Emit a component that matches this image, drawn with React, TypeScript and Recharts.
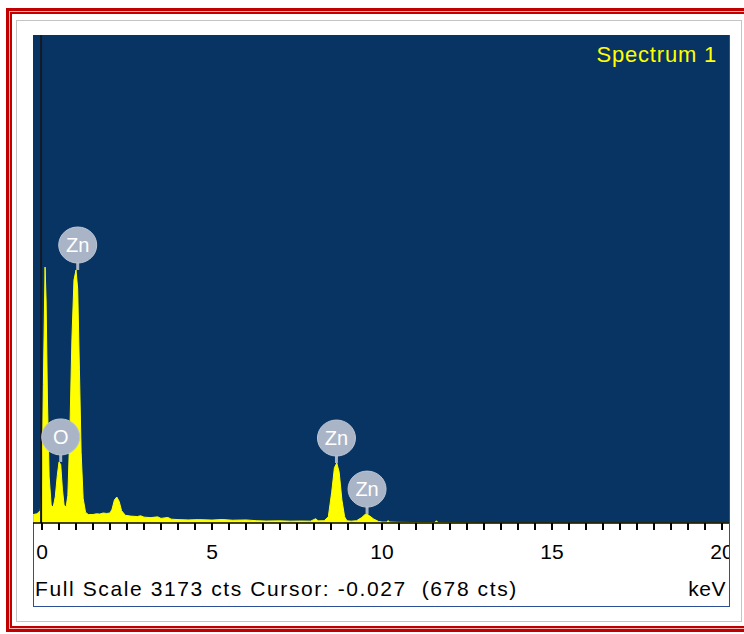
import { Area, AreaChart, ReferenceDot, ReferenceLine, XAxis, YAxis } from "recharts"

// EDS spectrum, keV vs counts
const energyKeV = [
  -0.26, -0.15, -0.05, 0.0, 0.04, 0.09, 0.12, 0.16, 0.21, 0.27, 0.33, 0.39, 0.45, 0.5, 0.55, 0.6, 0.65,
  0.71, 0.76, 0.82, 0.88, 0.94, 1.0, 1.05, 1.1, 1.15, 1.21, 1.28, 1.36, 1.5, 1.6, 1.7, 1.8, 1.9, 2.0,
  2.06, 2.13, 2.2, 2.27, 2.34, 2.45, 2.6, 2.8, 2.9, 3.0, 3.2, 3.4, 3.5, 3.7, 3.8, 4.0, 4.3, 4.6, 5.0,
  5.3, 5.6, 6.0, 6.3, 6.6, 7.0, 7.3, 7.6, 7.9, 8.05, 8.12, 8.3, 8.42, 8.52, 8.6, 8.67, 8.74, 8.82,
  8.9, 8.97, 9.1, 9.25, 9.4, 9.5, 9.56, 9.64, 9.76, 9.9, 10.0, 10.15, 10.18, 10.22, 10.5, 11.0, 11.55,
  11.6, 11.65, 12.0, 13.0, 20.2,
]
const counts = [
  55, 60, 80, 250, 900, 1664, 1450, 800, 300, 115, 104, 170, 310, 397, 380, 220, 115,
  104, 180, 600, 1200, 1580, 1645, 1520, 1000, 460, 160, 70, 55, 55, 60, 58, 65, 62, 65,
  90, 150, 169, 140, 80, 50, 45, 42, 47, 38, 35, 40, 30, 36, 25, 22, 20, 22, 19,
  23, 18, 20, 15, 13, 14, 12, 13, 12, 28, 14, 15, 40, 200, 360, 390, 330, 150,
  40, 14, 12, 15, 35, 55, 58, 45, 25, 10, 6, 6, 16, 6, 4, 3, 3,
  14, 3, 2, 0, 0,
]

// element markers
const markerLabels = ["O", "Zn", "Zn", "Zn"]
const markerKeV = [0.55, 1.05, 8.66, 9.56]
const markerCounts = [397, 1645, 390, 58]

const xTicks = Array.from({ length: 41 }, (_, i) => i * 0.5)
const fullScale = 3173
const cursorKeV = -0.027

const data = energyKeV.map((e, i) => ({ keV: e, cts: counts[i] }))

const font = "'Liberation Sans', Arial, sans-serif"

function Badge(props: any) {
  const { cx, cy, label } = props
  if (cx == null || cy == null) return null
  const by = cy - 25
  return (
    <g>
      <line x1={cx} y1={cy} x2={cx} y2={by + 14} stroke="#a9b4c6" strokeWidth={3} />
      <ellipse cx={cx} cy={by} rx={19} ry={18} fill="#a9b4c6" stroke="#bcc5d3" strokeWidth={1} />
      <text x={cx} y={by + 7} textAnchor="middle" fill="#ffffff" fontSize={20} fontFamily={font}>
        {label}
      </text>
    </g>
  )
}

export default function App() {
  return (
    <div style={{ position: "absolute", left: 0, top: 0, width: 744, height: 634, overflow: "hidden", background: "#fff" }}>
      {/* red double frame */}
      <div style={{ position: "absolute", left: 6, top: 8, width: 800, height: 624, boxSizing: "border-box", border: "3px solid #c20000" }}>
        <div style={{ boxSizing: "border-box", width: "100%", height: "100%", border: "1px solid #f3b5b5" }}>
          <div style={{ boxSizing: "border-box", width: "100%", height: "100%", border: "2px solid #c20000" }} />
        </div>
      </div>
      <div style={{ position: "absolute", left: 16, top: 20, width: 726, height: 602, boxSizing: "border-box", border: "1px solid #c4c4c4" }} />
      <div style={{ position: "absolute", left: 33, top: 35, width: 697, height: 572, boxSizing: "border-box", border: "1px solid #2d4f96" }} />
      <div style={{ position: "absolute", left: 33, top: 35, width: 696, height: 488, background: "#073463" }} />

      <div style={{ position: "absolute", left: 33, top: 35 }}>
        <AreaChart width={696} height={533} data={data} margin={{ top: 0, right: 0, left: 0, bottom: 0 }}>
          <XAxis
            dataKey="keV"
            type="number"
            domain={[-0.265, 20.205]}
            allowDataOverflow
            ticks={xTicks}
            interval={0}
            tickSize={7}
            tickMargin={14}
            height={45}
            axisLine={{ stroke: "#000", strokeWidth: 1.5 }}
            tickLine={{ stroke: "#000", strokeWidth: 2 }}
            tick={{ fill: "#000", fontSize: 21, fontFamily: font }}
            tickFormatter={(v: number) => (v % 5 === 0 ? String(v) : "")}
          />
          <YAxis hide domain={[0, fullScale]} allowDataOverflow />
          <Area
            type="linear"
            dataKey="cts"
            stroke="#ffff00"
            strokeWidth={1}
            fill="#ffff00"
            fillOpacity={1}
            isAnimationActive={false}
            dot={false}
            activeDot={false}
          />
          <ReferenceLine x={cursorKeV} stroke="#141a22" strokeWidth={2} />
          {markerLabels.map((m, i) => (
            <ReferenceDot
              key={i}
              x={markerKeV[i]}
              y={markerCounts[i]}
              ifOverflow="visible"
              shape={(p: any) => <Badge {...p} label={m} />}
            />
          ))}
        </AreaChart>
      </div>

      <div style={{ position: "absolute", right: 27, top: 42, color: "#ffff00", fontFamily: font, fontSize: 22, letterSpacing: 0.8 }}>
        Spectrum 1
      </div>
      <div style={{ position: "absolute", left: 35, top: 577, color: "#000", fontFamily: font, fontSize: 21, letterSpacing: 1.6, whiteSpace: "pre" }}>
        {"Full Scale 3173 cts Cursor: -0.027  (678 cts)"}
      </div>
      <div style={{ position: "absolute", right: 18, top: 577, color: "#000", fontFamily: font, fontSize: 21, letterSpacing: 0.5 }}>
        keV
      </div>
    </div>
  )
}
